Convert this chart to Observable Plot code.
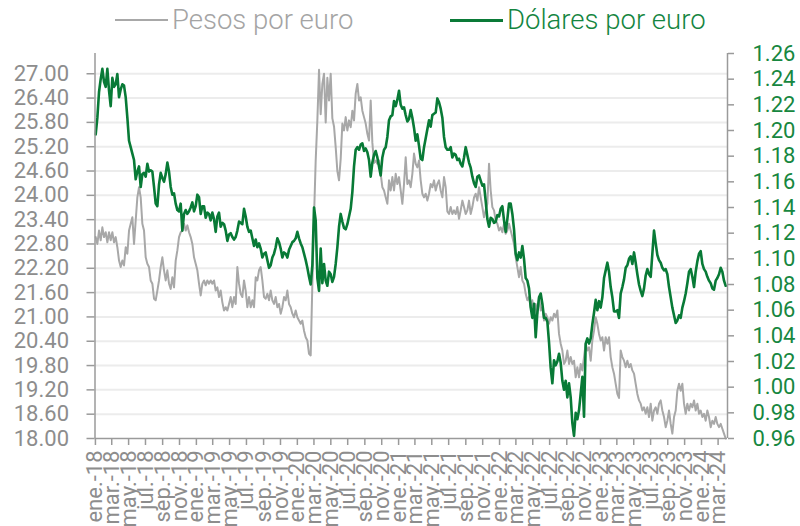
<!DOCTYPE html>
<html>
<head>
<meta charset="utf-8">
<script src="https://cdn.jsdelivr.net/npm/d3@7"></script>
<script src="https://cdn.jsdelivr.net/npm/@observablehq/plot@0.6"></script>
<style>
  html, body { margin: 0; padding: 0; background: #ffffff; }
  body { width: 800px; height: 526px; overflow: hidden; font-family: Roboto, "Noto Sans", sans-serif; }
  #legend { position: relative; height: 42px; width: 800px; }
  .lg-line { position: absolute; top: 19px; height: 2px; }
  .lg-text { position: absolute; top: 0; line-height: 40px; font-size: 27.5px; font-weight: 300; white-space: nowrap; }
  #chart svg { display: block; }
</style>
</head>
<body>
<div id="legend">
  <div class="lg-line" style="left:115px;width:53px;background:#a8a8a8"></div>
  <div class="lg-text" style="left:172px;color:#a4a4a4">Pesos por euro</div>
  <div class="lg-line" style="left:450px;width:53px;background:#0a7a37;height:2.5px"></div>
  <div class="lg-text" style="left:507px;color:#14853f">Dólares por euro</div>
</div>
<div id="chart"></div>
<script>
// ---- Data ----
// Series sampled at a regular step starting 2018-01-02, one value every ~6 days.
const serieInicio = "2018-01-02";
const pasoDias = 6.025;

// Pesos por euro (left axis)
const pesos = [
  22.97, 22.80, 23.13, 22.89, 23.21, 22.97, 23.09, 22.84, 23.09, 22.89,
  23.09, 22.84, 22.97, 22.72, 22.39, 22.23, 22.39, 22.27, 22.72, 22.56,
  23.13, 23.30, 23.46, 22.80, 23.38, 23.95, 24.20, 23.95, 23.30, 23.13,
  22.47, 22.31, 22.23, 21.90, 21.82, 21.45, 21.41, 21.65, 21.90, 22.23,
  22.47, 22.15, 21.90, 22.15, 21.82, 21.69, 21.98, 21.73, 22.39, 22.64,
  22.97, 23.09, 23.13, 23.30, 23.13, 23.26, 23.09, 22.97, 22.80, 22.47,
  22.31, 22.15, 21.82, 21.53, 21.82, 21.90, 21.78, 21.90, 21.82, 21.90,
  21.82, 21.90, 21.65, 21.73, 21.49, 21.65, 21.36, 21.16, 21.24, 21.16,
  21.32, 21.49, 21.24, 21.49, 21.32, 22.23, 21.82, 21.57, 21.49, 21.90,
  21.65, 21.24, 21.49, 21.24, 21.41, 21.24, 21.98,
  21.90, 22.15, 22.23, 21.90, 21.49, 21.45, 21.57, 21.41, 21.65, 21.41,
  21.32, 21.49, 21.24, 21.32, 21.08, 21.24, 21.49, 21.41, 21.65, 21.32,
  21.24, 21.08, 20.99, 21.16, 20.99, 20.91, 20.83, 20.91, 20.66, 20.50,
  20.42, 20.09, 20.05, 21.82, 23.46, 24.86, 25.85, 27.10, 26.00, 26.75,
  27.00, 25.80, 26.90, 26.34, 27.00, 25.90, 25.70, 25.19, 24.60, 24.37,
  24.90, 25.77, 25.60, 25.93, 25.60, 25.85, 25.68, 26.09, 25.85, 26.51,
  26.75, 26.34, 26.42, 26.09, 25.93, 25.77, 25.52, 25.35, 26.34, 25.30,
  24.80, 24.86, 24.78, 24.86, 24.53, 24.20, 24.12, 23.95, 23.79, 24.37,
  24.12, 24.45, 24.12, 24.53, 24.28, 24.45, 24.12, 23.79, 24.28, 24.94,
  24.28, 24.37, 24.20, 24.53, 25.03, 24.78,
  24.69, 24.86, 24.37, 24.04, 23.95, 24.04, 23.87, 24.04, 24.28, 24.20,
  24.37, 24.12, 24.28, 24.37, 24.12, 23.95, 24.45, 24.20, 23.60, 23.54,
  23.71, 23.54, 23.63, 23.54, 23.71, 23.42, 23.63, 23.87, 23.71, 23.54,
  23.63, 23.87, 23.54, 23.71, 23.95, 24.04, 23.87, 24.20, 23.95, 23.71,
  23.46, 23.63, 23.79, 24.78, 24.12, 23.71, 23.63, 23.38, 23.30, 23.13,
  23.21, 23.09, 23.30, 23.05, 23.13, 23.30, 23.13, 22.97, 22.80, 22.47,
  22.23, 21.98, 22.23, 21.90, 21.82, 21.57, 21.41, 21.49, 21.24, 21.41,
  21.08, 21.32, 21.08, 21.49, 21.16, 21.24, 20.91, 21.08, 20.99, 20.83,
  20.99, 20.91, 21.08, 20.99, 21.16, 20.58, 20.34, 20.17, 19.84, 19.92,
  20.17, 19.84, 20.01, 19.84, 19.92, 19.51,
  19.76, 19.51, 19.84, 19.68, 20.01, 20.34, 20.17, 20.25, 19.92, 20.42,
  20.66, 20.99, 20.83, 20.58, 20.42, 20.50, 20.17, 20.50, 20.34, 20.50,
  20.01, 19.76, 19.60, 19.35, 19.10, 19.00, 20.17, 20.01, 19.92, 19.76,
  19.92, 19.76, 19.84, 19.68, 19.60, 19.35, 19.10, 18.94, 18.86, 18.69,
  18.77, 18.61, 18.77, 18.53, 18.86, 18.44, 18.69, 18.77, 18.61, 18.86,
  18.94, 18.69, 18.53, 18.28, 18.44, 18.69, 18.36, 18.12, 18.53, 18.69,
  19.18, 19.35, 19.18, 19.35, 18.86, 18.61, 18.86, 18.69, 18.86, 18.77,
  18.94, 18.69, 18.86, 18.61, 18.69, 18.53, 18.61, 18.44, 18.69, 18.53,
  18.28, 18.44, 18.36, 18.53, 18.36, 18.28, 18.36, 18.24, 18.12, 18.00
];

// Dólares por euro (right axis)
const dolares = [
  1.197, 1.210, 1.230, 1.240, 1.248, 1.238, 1.234, 1.248, 1.231, 1.219,
  1.241, 1.234, 1.236, 1.244, 1.226, 1.232, 1.236, 1.235, 1.226, 1.210,
  1.192, 1.187, 1.182, 1.177, 1.162, 1.168, 1.172, 1.156, 1.166, 1.167,
  1.164, 1.174, 1.168, 1.169, 1.168, 1.156, 1.143, 1.141, 1.158, 1.167,
  1.163, 1.160, 1.166, 1.175, 1.168, 1.156, 1.150, 1.151, 1.143, 1.138,
  1.137, 1.143, 1.122, 1.135, 1.138, 1.135, 1.137, 1.140, 1.144, 1.137,
  1.141, 1.150, 1.148, 1.135, 1.141, 1.141, 1.132, 1.136, 1.135, 1.130,
  1.136, 1.131, 1.121, 1.133, 1.136, 1.125, 1.128, 1.127, 1.122, 1.114,
  1.119, 1.120, 1.117, 1.115, 1.117, 1.122, 1.129, 1.128, 1.127, 1.139,
  1.133, 1.125, 1.121, 1.122, 1.116, 1.110, 1.115,
  1.109, 1.112, 1.108, 1.101, 1.104, 1.105, 1.099, 1.093, 1.095, 1.101,
  1.104, 1.109, 1.116, 1.113, 1.108, 1.101, 1.105, 1.104, 1.101, 1.107,
  1.110, 1.113, 1.114, 1.116, 1.121, 1.116, 1.112, 1.109, 1.104, 1.099,
  1.093, 1.086, 1.080, 1.095, 1.140, 1.130, 1.085, 1.075, 1.108, 1.081,
  1.096, 1.083, 1.079, 1.090, 1.088, 1.082, 1.086, 1.096, 1.109, 1.125,
  1.135, 1.129, 1.124, 1.123, 1.127, 1.133, 1.139, 1.152, 1.172, 1.185,
  1.187, 1.185, 1.189, 1.190, 1.184, 1.186, 1.183, 1.177, 1.164, 1.175,
  1.181, 1.184, 1.179, 1.172, 1.165, 1.179, 1.185, 1.187, 1.195, 1.208,
  1.211, 1.212, 1.223, 1.219, 1.224, 1.231, 1.220, 1.217, 1.218, 1.212,
  1.207, 1.209, 1.216, 1.210, 1.202, 1.192,
  1.197, 1.188, 1.178, 1.177, 1.187, 1.194, 1.201, 1.208, 1.203, 1.212,
  1.213, 1.214, 1.225, 1.222, 1.217, 1.210, 1.195, 1.187, 1.185, 1.185,
  1.187, 1.179, 1.182, 1.181, 1.177, 1.178, 1.174, 1.172, 1.179, 1.187,
  1.181, 1.175, 1.171, 1.164, 1.159, 1.156, 1.164, 1.165, 1.161, 1.157,
  1.158, 1.145, 1.131, 1.125, 1.132, 1.131, 1.128, 1.129, 1.134, 1.133,
  1.139, 1.141, 1.130, 1.121, 1.131, 1.143, 1.143, 1.135, 1.123, 1.104,
  1.099, 1.105, 1.101, 1.110, 1.100, 1.085, 1.083, 1.077, 1.062, 1.054,
  1.065, 1.039, 1.058, 1.070, 1.073, 1.065, 1.054, 1.054, 1.051, 1.035,
  1.015, 1.003, 1.021, 1.017, 1.020, 1.026, 1.019, 1.005, 0.998, 1.005,
  0.992, 1.003, 0.992, 0.972, 0.962, 0.980,
  0.975, 0.982, 0.995, 1.008, 0.977, 1.034, 1.038, 1.034, 1.038, 1.049,
  1.058, 1.068, 1.060, 1.067, 1.062, 1.070, 1.085, 1.091, 1.097, 1.090,
  1.078, 1.070, 1.059, 1.059, 1.060, 1.054, 1.073, 1.078, 1.084, 1.093,
  1.095, 1.100, 1.102, 1.096, 1.105, 1.097, 1.088, 1.080, 1.075, 1.071,
  1.077, 1.087, 1.092, 1.088, 1.086, 1.104, 1.122, 1.112, 1.103, 1.099,
  1.097, 1.093, 1.091, 1.092, 1.088, 1.078, 1.070, 1.062, 1.056, 1.050,
  1.052, 1.056, 1.054, 1.062, 1.067, 1.073, 1.081, 1.090, 1.092, 1.086,
  1.078, 1.090, 1.098, 1.104, 1.106, 1.096, 1.092, 1.090, 1.086, 1.083,
  1.081, 1.077, 1.076, 1.083, 1.085, 1.088, 1.093, 1.090, 1.083, 1.079
];

// Axis ticks
const ticksPesos = [18.00, 18.60, 19.20, 19.80, 20.40, 21.00, 21.60, 22.20, 22.80, 23.40, 24.00, 24.60, 25.20, 25.80, 26.40, 27.00];
const ticksDolares = [0.96, 0.98, 1.00, 1.02, 1.04, 1.06, 1.08, 1.10, 1.12, 1.14, 1.16, 1.18, 1.20, 1.22, 1.24, 1.26];
const ticksMeses = [
  "2018-01","2018-03","2018-05","2018-07","2018-09","2018-11",
  "2019-01","2019-03","2019-05","2019-07","2019-09","2019-11",
  "2020-01","2020-03","2020-05","2020-07","2020-09","2020-11",
  "2021-01","2021-03","2021-05","2021-07","2021-09","2021-11",
  "2022-01","2022-03","2022-05","2022-07","2022-09","2022-11",
  "2023-01","2023-03","2023-05","2023-07","2023-09","2023-11",
  "2024-01","2024-03"
];
const nombresMes = ["ene.","feb.","mar.","abr.","may.","jun.","jul.","ago.","sep.","oct.","nov.","dic."];

// Domains
const dominioPesos = [18, 27.5];
const dominioDolares = [0.96, 1.26];
const dominioFechas = [new Date("2017-12-30T12:00:00Z"), new Date("2024-04-04T00:00:00Z")];

// ---- Build ----
const colorGris = "#a8a8a8";
const colorVerde = "#087a36";
const textoVerde = "#17873f";
const textoGris = "#8d8d8d";
const ejeGris = "#9a9a9a";

const toP = d => dominioPesos[0] + (d - dominioDolares[0]) * (dominioPesos[1] - dominioPesos[0]) / (dominioDolares[1] - dominioDolares[0]);
const fromP = p => dominioDolares[0] + (p - dominioPesos[0]) * (dominioDolares[1] - dominioDolares[0]) / (dominioPesos[1] - dominioPesos[0]);

const t0 = new Date(serieInicio + "T00:00:00Z").getTime();
const filas = pesos.map((p, i) => ({
  fecha: new Date(t0 + i * pasoDias * 864e5),
  peso: p,
  dolar: dolares[i]
}));
const fechasTicks = ticksMeses.map(s => new Date(s + "-01T00:00:00Z"));

const chart = Plot.plot({
  width: 800,
  height: 484,
  marginTop: 11,
  marginBottom: 88,
  marginLeft: 94.5,
  marginRight: 73,
  style: { fontFamily: "Roboto, 'Noto Sans', sans-serif", background: "#ffffff", overflow: "visible" },
  x: { type: "utc", domain: dominioFechas },
  y: { domain: dominioPesos },
  marks: [
    Plot.gridY(ticksPesos.slice(1), { stroke: "#ececec", strokeOpacity: 1, strokeWidth: 2 }),
    Plot.lineY(filas, { x: "fecha", y: "peso", stroke: colorGris, strokeWidth: 2 }),
    Plot.lineY(filas, { x: "fecha", y: d => toP(d.dolar), stroke: colorVerde, strokeWidth: 2.6 }),
    Plot.ruleX([dominioFechas[0]], { stroke: ejeGris, strokeWidth: 1.5 }),
    Plot.ruleX([dominioFechas[1]], { stroke: ejeGris, strokeWidth: 1.5 }),
    Plot.ruleY([dominioPesos[0]], { stroke: ejeGris, strokeWidth: 1.5 }),
    Plot.axisY(ticksPesos, {
      anchor: "left", label: null, tickSize: 8, tickPadding: 18,
      tickFormat: d => d.toFixed(2), fontSize: 22, fill: textoGris, stroke: ejeGris, strokeWidth: 1.5
    }),
    Plot.axisY(ticksDolares.map(toP), {
      anchor: "right", label: null, tickSize: 6, tickPadding: 19,
      tickFormat: p => fromP(p).toFixed(2), fontSize: 22, fill: textoVerde, stroke: ejeGris, strokeWidth: 1.5
    }),
    Plot.axisX(fechasTicks, {
      anchor: "bottom", label: null, tickSize: 7, tickPadding: 5, tickRotate: -90,
      tickFormat: d => nombresMes[d.getUTCMonth()] + "-" + String(d.getUTCFullYear()).slice(2),
      fontSize: 22, fill: textoGris, stroke: ejeGris, strokeWidth: 1.5
    })
  ]
});
document.getElementById("chart").appendChild(chart);
</script>
</body>
</html>
